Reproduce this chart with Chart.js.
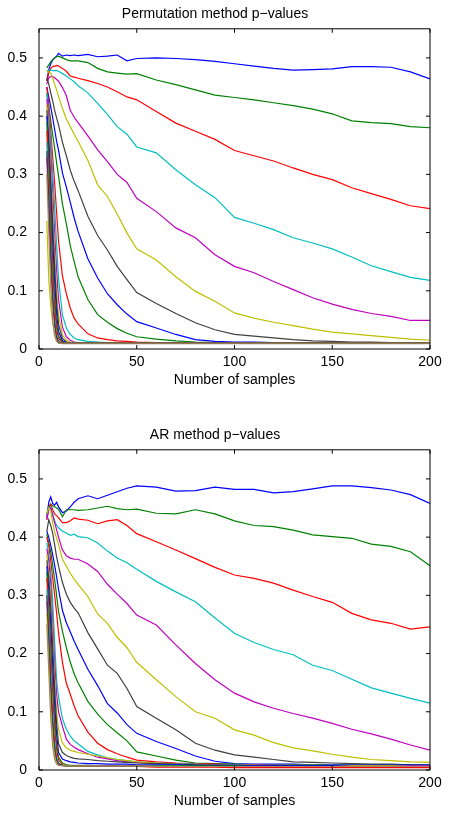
<!DOCTYPE html>
<html>
<head>
<meta charset="utf-8">
<script src="https://cdn.jsdelivr.net/npm/chart.js@4.4.1/dist/chart.umd.min.js"></script>
<style>
  html, body { margin: 0; padding: 0; background: #fff; }
  #wrap { position: relative; width: 451px; height: 815px; }
  canvas { position: absolute; left: 0; }
  #perm { top: 0; }
  #ar { top: 421px; }
</style>
</head>
<body>
<div id="wrap">
  <canvas id="perm" width="451" height="408"></canvas>
  <canvas id="ar" width="451" height="394"></canvas>
</div>
<script>
// Numero de muestras (eje x) y marcas de los ejes
const X_SAMPLES = [4, 5, 6, 7, 8, 9, 10, 12, 14, 16, 18, 20, 25, 30, 35, 40, 45, 50,
  60, 70, 80, 90, 100, 110, 120, 130, 140, 150, 160, 170, 180, 190, 200];
const X_TICKS = [0, 50, 100, 150, 200];
const Y_TICKS = [0, 0.1, 0.2, 0.3, 0.4, 0.5];

// Colores por defecto de Matlab (se repiten) y la linea marron del fondo
const COLOR_CYCLE = ["#0000ff", "#008000", "#ff0000", "#00bfbf", "#bf00bf", "#bfbf00", "#404040"];
const FLOOR_COLOR = "#a5875f";

// --- Permutation method p-values ---
const permBlue1 = [0.460,0.480,0.490,0.496,0.500,0.503,0.508, 0.503,0.505,0.504,0.505,0.504, 0.506,0.502,0.503,0.505,0.495,0.499, 0.500,0.499,0.497,0.494,0.490, 0.486,0.482,0.479,0.480,0.481, 0.485,0.485,0.484,0.476,0.464];
const permGreen1 = [0.483,0.488,0.493,0.497,0.500,0.502,0.503, 0.500,0.497,0.495,0.495,0.495, 0.492,0.482,0.476,0.474,0.472,0.473, 0.462,0.454,0.445,0.436,0.432, 0.428,0.423,0.418,0.412,0.404, 0.392,0.389,0.387,0.382,0.380];
const permRed1 = [0.460,0.475,0.482,0.485,0.486,0.487,0.486, 0.482,0.477,0.469,0.467,0.465, 0.461,0.456,0.450,0.442,0.433,0.428, 0.408,0.388,0.374,0.360,0.341, 0.332,0.323,0.311,0.300,0.291, 0.277,0.267,0.257,0.246,0.241];
const permCyan1 = [0.478,0.479,0.479,0.478,0.478,0.478,0.477, 0.473,0.469,0.464,0.459,0.452, 0.440,0.422,0.403,0.382,0.369,0.347, 0.337,0.308,0.282,0.260,0.226, 0.216,0.205,0.191,0.182,0.172, 0.158,0.143,0.133,0.123,0.118];
const permMagenta1 = [0.455,0.466,0.468,0.468,0.466,0.463,0.460, 0.449,0.435,0.410,0.398,0.389, 0.366,0.342,0.322,0.300,0.286,0.259, 0.236,0.208,0.191,0.162,0.142, 0.131,0.116,0.102,0.088,0.077, 0.068,0.061,0.056,0.049,0.049];
const permYellow1 = [0.477,0.476,0.474,0.465,0.455,0.445,0.434, 0.413,0.395,0.382,0.369,0.357, 0.324,0.282,0.262,0.232,0.199,0.172, 0.153,0.124,0.099,0.082,0.062, 0.053,0.046,0.040,0.034,0.029, 0.026,0.023,0.020,0.017,0.015];
const permGray1 = [0.466,0.455,0.440,0.426,0.410,0.397,0.385, 0.355,0.332,0.307,0.288,0.272, 0.228,0.195,0.170,0.142,0.119,0.097, 0.078,0.061,0.045,0.033,0.025, 0.022,0.019,0.016,0.014,0.013, 0.012,0.012,0.011,0.011,0.011];
const permBlue2 = [0.450,0.433,0.416,0.397,0.377,0.357,0.341, 0.302,0.278,0.252,0.225,0.202, 0.155,0.122,0.095,0.076,0.060,0.047, 0.036,0.025,0.016,0.013,0.012, 0.012,0.011,0.011,0.010,0.010, 0.010,0.010,0.010,0.010,0.010];
const permGreen2 = [0.440,0.415,0.392,0.368,0.345,0.320,0.297, 0.249,0.215,0.177,0.150,0.124, 0.085,0.059,0.046,0.035,0.027,0.021, 0.017,0.014,0.012,0.011,0.010, 0.010,0.010,0.010,0.010,0.010, 0.010,0.010,0.010,0.010,0.010];
const permRed2 = [0.450,0.420,0.375,0.330,0.285,0.235,0.185, 0.125,0.095,0.070,0.053,0.043, 0.026,0.019,0.016,0.014,0.013,0.012, 0.011,0.010,0.010,0.010,0.010, 0.010,0.010,0.010,0.010,0.010, 0.010,0.010,0.010,0.010,0.010];
const permCyan2 = [0.440,0.405,0.360,0.305,0.245,0.180,0.120, 0.058,0.036,0.025,0.019,0.016, 0.013,0.012,0.011,0.010,0.010,0.010, 0.010,0.010,0.010,0.010,0.010, 0.010,0.010,0.010,0.010,0.010, 0.010,0.010,0.010,0.010,0.010];
const permMagenta2 = [0.430,0.390,0.335,0.270,0.200,0.135,0.085, 0.037,0.021,0.015,0.012,0.011, 0.010,0.010,0.010,0.010,0.010,0.010, 0.010,0.010,0.010,0.010,0.010, 0.010,0.010,0.010,0.010,0.010, 0.010,0.010,0.010,0.010,0.010];
const permYellow2 = [0.420,0.375,0.310,0.240,0.165,0.100,0.058, 0.024,0.015,0.012,0.011,0.010, 0.010,0.010,0.010,0.010,0.010,0.010, 0.010,0.010,0.010,0.010,0.010, 0.010,0.010,0.010,0.010,0.010, 0.010,0.010,0.010,0.010,0.010];
const permGray2 = [0.410,0.360,0.290,0.215,0.140,0.080,0.042, 0.018,0.012,0.011,0.010,0.010, 0.010,0.010,0.010,0.010,0.010,0.010, 0.010,0.010,0.010,0.010,0.010, 0.010,0.010,0.010,0.010,0.010, 0.010,0.010,0.010,0.010,0.010];
const permBlue3 = [0.400,0.345,0.265,0.185,0.115,0.060,0.030, 0.014,0.011,0.010,0.010,0.010, 0.010,0.010,0.010,0.010,0.010,0.010, 0.010,0.010,0.010,0.010,0.010, 0.010,0.010,0.010,0.010,0.010, 0.010,0.010,0.010,0.010,0.010];
const permGreen3 = [0.390,0.325,0.240,0.155,0.090,0.045,0.022, 0.012,0.010,0.010,0.010,0.010, 0.010,0.010,0.010,0.010,0.010,0.010, 0.010,0.010,0.010,0.010,0.010, 0.010,0.010,0.010,0.010,0.010, 0.010,0.010,0.010,0.010,0.010];
const permRed3 = [0.375,0.300,0.210,0.130,0.070,0.035,0.018, 0.011,0.010,0.010,0.010,0.010, 0.010,0.010,0.010,0.010,0.010,0.010, 0.010,0.010,0.010,0.010,0.010, 0.010,0.010,0.010,0.010,0.010, 0.010,0.010,0.010,0.010,0.010];
const permCyan3 = [0.355,0.270,0.180,0.100,0.050,0.025,0.014, 0.010,0.010,0.010,0.010,0.010, 0.010,0.010,0.010,0.010,0.010,0.010, 0.010,0.010,0.010,0.010,0.010, 0.010,0.010,0.010,0.010,0.010, 0.010,0.010,0.010,0.010,0.010];
const permMagenta3 = [0.330,0.240,0.150,0.080,0.040,0.020,0.012, 0.010,0.010,0.010,0.010,0.010, 0.010,0.010,0.010,0.010,0.010,0.010, 0.010,0.010,0.010,0.010,0.010, 0.010,0.010,0.010,0.010,0.010, 0.010,0.010,0.010,0.010,0.010];
const permYellow3 = [0.220,0.120,0.075,0.045,0.027,0.016,0.012, 0.010,0.010,0.010,0.010,0.010, 0.010,0.010,0.010,0.010,0.010,0.010, 0.010,0.010,0.010,0.010,0.010, 0.010,0.010,0.010,0.010,0.010, 0.010,0.010,0.010,0.010,0.010];
const permGray3 = [0.340,0.260,0.170,0.090,0.045,0.020,0.011, 0.010,0.010,0.010,0.010,0.010, 0.010,0.010,0.010,0.010,0.010,0.010, 0.010,0.010,0.010,0.010,0.010, 0.010,0.010,0.010,0.010,0.010, 0.010,0.010,0.010,0.010,0.010];
const permFloor = [0.300,0.200,0.110,0.050,0.022,0.013,0.010, 0.009,0.009,0.009,0.009,0.009, 0.009,0.009,0.009,0.009,0.009,0.009, 0.009,0.009,0.009,0.009,0.009, 0.009,0.009,0.009,0.009,0.009, 0.009,0.009,0.009,0.009,0.009];

// --- AR method p-values ---
const arBlue1 = [0.435,0.460,0.469,0.458,0.455,0.460,0.452, 0.442,0.445,0.452,0.460,0.466, 0.471,0.466,0.472,0.478,0.484,0.488, 0.486,0.479,0.480,0.486,0.482, 0.482,0.476,0.478,0.483,0.488, 0.488,0.485,0.481,0.473,0.458];
const arGreen1 = [0.440,0.452,0.457,0.454,0.452,0.450,0.448, 0.435,0.447,0.447,0.447,0.446, 0.447,0.450,0.453,0.449,0.447,0.448, 0.441,0.440,0.447,0.440,0.428, 0.420,0.418,0.412,0.404,0.401, 0.398,0.388,0.384,0.375,0.351];
const arRed1 = [0.430,0.450,0.456,0.447,0.440,0.437,0.433, 0.425,0.425,0.428,0.433,0.431, 0.429,0.423,0.428,0.430,0.420,0.406, 0.392,0.378,0.363,0.348,0.335, 0.329,0.321,0.309,0.298,0.288, 0.269,0.258,0.252,0.242,0.246];
const arCyan1 = [0.440,0.450,0.452,0.440,0.428,0.420,0.416, 0.410,0.407,0.403,0.405,0.401, 0.399,0.390,0.376,0.364,0.356,0.345, 0.324,0.306,0.289,0.261,0.235, 0.219,0.207,0.198,0.180,0.171, 0.156,0.141,0.132,0.123,0.115];
const arMagenta1 = [0.430,0.448,0.450,0.437,0.425,0.413,0.400, 0.378,0.368,0.364,0.362,0.362, 0.354,0.341,0.319,0.302,0.286,0.266, 0.249,0.215,0.183,0.155,0.132, 0.117,0.106,0.097,0.089,0.080, 0.070,0.062,0.053,0.043,0.034];
const arYellow1 = [0.440,0.450,0.445,0.425,0.409,0.398,0.387, 0.362,0.350,0.338,0.328,0.319, 0.298,0.268,0.252,0.228,0.210,0.185, 0.155,0.126,0.100,0.089,0.069, 0.060,0.047,0.038,0.033,0.027, 0.022,0.018,0.016,0.014,0.013];
const arGray1 = [0.410,0.430,0.420,0.407,0.387,0.366,0.350, 0.322,0.302,0.288,0.278,0.270, 0.236,0.208,0.180,0.166,0.140,0.109, 0.089,0.069,0.046,0.034,0.026, 0.022,0.018,0.014,0.013,0.012, 0.011,0.010,0.010,0.009,0.009];
const arBlue2 = [0.410,0.400,0.386,0.370,0.352,0.332,0.310, 0.274,0.253,0.237,0.221,0.207, 0.173,0.145,0.114,0.098,0.078,0.063, 0.049,0.037,0.024,0.015,0.011, 0.010,0.010,0.010,0.009,0.009, 0.009,0.009,0.009,0.009,0.009];
const arGreen2 = [0.405,0.390,0.375,0.352,0.327,0.300,0.272, 0.238,0.210,0.185,0.165,0.150, 0.118,0.096,0.078,0.064,0.050,0.031, 0.024,0.017,0.012,0.011,0.010, 0.009,0.009,0.009,0.009,0.008, 0.008,0.008,0.008,0.008,0.008];
const arRed2 = [0.400,0.385,0.360,0.330,0.300,0.270,0.235, 0.185,0.149,0.130,0.110,0.093, 0.065,0.046,0.035,0.028,0.022,0.017, 0.014,0.012,0.011,0.010,0.009, 0.009,0.008,0.008,0.008,0.007, 0.007,0.007,0.007,0.007,0.007];
const arCyan2 = [0.390,0.370,0.340,0.290,0.220,0.155,0.125, 0.088,0.070,0.058,0.050,0.045, 0.032,0.026,0.021,0.018,0.016,0.014, 0.012,0.011,0.010,0.009,0.009, 0.008,0.008,0.008,0.008,0.007, 0.007,0.007,0.007,0.007,0.007];
const arMagenta2 = [0.380,0.360,0.320,0.255,0.185,0.130,0.100, 0.075,0.053,0.044,0.039,0.035, 0.028,0.022,0.019,0.016,0.014,0.013, 0.011,0.010,0.009,0.009,0.008, 0.008,0.008,0.007,0.007,0.007, 0.007,0.007,0.007,0.007,0.007];
const arYellow2 = [0.370,0.340,0.300,0.230,0.160,0.100,0.070, 0.046,0.038,0.034,0.032,0.030, 0.027,0.024,0.021,0.018,0.016,0.014, 0.012,0.010,0.009,0.008,0.008, 0.008,0.007,0.007,0.007,0.007, 0.007,0.007,0.007,0.006,0.006];
const arGray2 = [0.360,0.330,0.280,0.210,0.140,0.080,0.045, 0.030,0.025,0.022,0.020,0.019, 0.018,0.016,0.015,0.014,0.013,0.012, 0.011,0.010,0.009,0.008,0.008, 0.007,0.007,0.007,0.007,0.007, 0.006,0.006,0.006,0.006,0.006];
const arBlue3 = [0.350,0.310,0.250,0.180,0.110,0.060,0.030, 0.019,0.016,0.014,0.013,0.012, 0.011,0.011,0.010,0.010,0.010,0.009, 0.009,0.009,0.008,0.008,0.008, 0.007,0.007,0.007,0.007,0.007, 0.006,0.006,0.006,0.006,0.006];
const arGreen3 = [0.340,0.290,0.220,0.150,0.090,0.045,0.022, 0.012,0.009,0.008,0.008,0.008, 0.008,0.007,0.007,0.007,0.007,0.007, 0.007,0.007,0.007,0.007,0.007, 0.006,0.006,0.006,0.006,0.006, 0.006,0.006,0.006,0.006,0.006];
const arRed3 = [0.330,0.270,0.200,0.130,0.070,0.035,0.017, 0.009,0.007,0.007,0.006,0.006, 0.006,0.006,0.006,0.006,0.006,0.006, 0.005,0.005,0.005,0.005,0.004, 0.004,0.004,0.004,0.004,0.004, 0.004,0.004,0.004,0.004,0.004];
const arCyan3 = [0.310,0.250,0.170,0.100,0.050,0.022,0.012, 0.008,0.007,0.007,0.007,0.007, 0.007,0.007,0.007,0.007,0.007,0.007, 0.006,0.006,0.006,0.006,0.006, 0.006,0.006,0.006,0.006,0.006, 0.006,0.006,0.006,0.006,0.006];
const arMagenta3 = [0.290,0.220,0.140,0.075,0.035,0.016,0.010, 0.008,0.007,0.007,0.007,0.007, 0.007,0.007,0.007,0.007,0.007,0.007, 0.006,0.006,0.006,0.006,0.006, 0.006,0.006,0.006,0.006,0.006, 0.006,0.006,0.006,0.006,0.006];
const arYellow3 = [0.270,0.190,0.110,0.055,0.025,0.012,0.009, 0.008,0.007,0.007,0.007,0.007, 0.007,0.007,0.007,0.007,0.007,0.007, 0.006,0.006,0.006,0.006,0.006, 0.006,0.006,0.006,0.006,0.006, 0.006,0.006,0.006,0.006,0.006];
const arGray3 = [0.300,0.230,0.150,0.085,0.040,0.018,0.010, 0.008,0.007,0.007,0.007,0.007, 0.007,0.007,0.007,0.007,0.007,0.007, 0.006,0.006,0.006,0.006,0.006, 0.006,0.006,0.006,0.006,0.006, 0.006,0.006,0.006,0.006,0.006];
const arFloor = [0.250,0.170,0.090,0.040,0.018,0.010,0.008, 0.007,0.007,0.007,0.007,0.007, 0.007,0.007,0.007,0.007,0.007,0.007, 0.006,0.006,0.006,0.006,0.006, 0.006,0.006,0.006,0.006,0.006, 0.006,0.006,0.006,0.006,0.006];

const PERM_SERIES = [permBlue1, permGreen1, permRed1, permCyan1, permMagenta1, permYellow1, permGray1,
  permBlue2, permGreen2, permRed2, permCyan2, permMagenta2, permYellow2, permGray2,
  permBlue3, permGreen3, permRed3, permCyan3, permMagenta3, permYellow3, permGray3, permFloor];
const AR_SERIES = [arBlue1, arGreen1, arRed1, arCyan1, arMagenta1, arYellow1, arGray1,
  arBlue2, arGreen2, arRed2, arCyan2, arMagenta2, arYellow2, arGray2,
  arBlue3, arGreen3, arRed3, arCyan3, arMagenta3, arYellow3, arGray3, arFloor];

const FONT = { family: "'Liberation Sans', Arial, Helvetica, sans-serif", size: 14 };
const TICK_LEN = 4;

// Caja estilo Matlab con marcas hacia dentro en los cuatro lados
const matlabBox = {
  id: "matlabBox",
  afterDatasetsDraw(chart) {
    const { ctx, chartArea: a, scales: { x, y } } = chart;
    ctx.save();
    ctx.strokeStyle = "#000";
    ctx.lineWidth = 1;
    ctx.beginPath();
    ctx.rect(a.left, a.top, a.right - a.left, a.bottom - a.top);
    x.ticks.forEach(t => {
      const px = x.getPixelForValue(t.value);
      ctx.moveTo(px, a.bottom); ctx.lineTo(px, a.bottom - TICK_LEN);
      ctx.moveTo(px, a.top); ctx.lineTo(px, a.top + TICK_LEN);
    });
    y.ticks.forEach(t => {
      const py = y.getPixelForValue(t.value);
      ctx.moveTo(a.left, py); ctx.lineTo(a.left + TICK_LEN, py);
      ctx.moveTo(a.right, py); ctx.lineTo(a.right - TICK_LEN, py);
    });
    ctx.stroke();
    ctx.restore();
  }
};

function buildChart(canvasId, titleText, seriesList, bottomPad) {
  const n = seriesList.length;
  const datasets = seriesList.map((values, i) => ({
    data: values,
    borderColor: i === n - 1 ? FLOOR_COLOR : COLOR_CYCLE[i % COLOR_CYCLE.length],
    borderWidth: 1.2,
    pointRadius: 0,
    tension: 0,
    fill: false,
    order: n - i // la ultima serie queda encima, como en Matlab
  }));

  return new Chart(document.getElementById(canvasId), {
    type: "line",
    data: { labels: X_SAMPLES, datasets },
    options: {
      responsive: false,
      animation: false,
      devicePixelRatio: 1,
      layout: { padding: { top: 0, right: 21, bottom: bottomPad, left: 0 } },
      plugins: {
        legend: { display: false },
        tooltip: { enabled: false },
        title: {
          display: true,
          text: titleText,
          color: "#000",
          font: { ...FONT, weight: "normal" },
          padding: { top: 6, bottom: 6 }
        }
      },
      scales: {
        x: {
          type: "linear",
          min: 0,
          max: 200,
          grid: { display: false },
          border: { display: false },
          afterBuildTicks: s => { s.ticks = X_TICKS.map(v => ({ value: v })); },
          afterFit: s => { s.height = 45; },
          ticks: { color: "#000", font: FONT, padding: -3, maxRotation: 0 },
          title: {
            display: true,
            text: "Number of samples",
            color: "#000",
            font: FONT,
            padding: { top: 0, bottom: 5 }
          }
        },
        y: {
          type: "linear",
          min: 0,
          max: 0.55,
          grid: { display: false },
          border: { display: false },
          afterBuildTicks: s => { s.ticks = Y_TICKS.map(v => ({ value: v })); },
          afterFit: s => { s.width = 39; },
          ticks: { color: "#000", font: FONT, padding: 4, callback: v => String(v) }
        }
      }
    },
    plugins: [matlabBox]
  });
}

buildChart("perm", "Permutation method p\u2212values", PERM_SERIES, 14);
buildChart("ar", "AR method p\u2212values", AR_SERIES, 0);
</script>
</body>
</html>
